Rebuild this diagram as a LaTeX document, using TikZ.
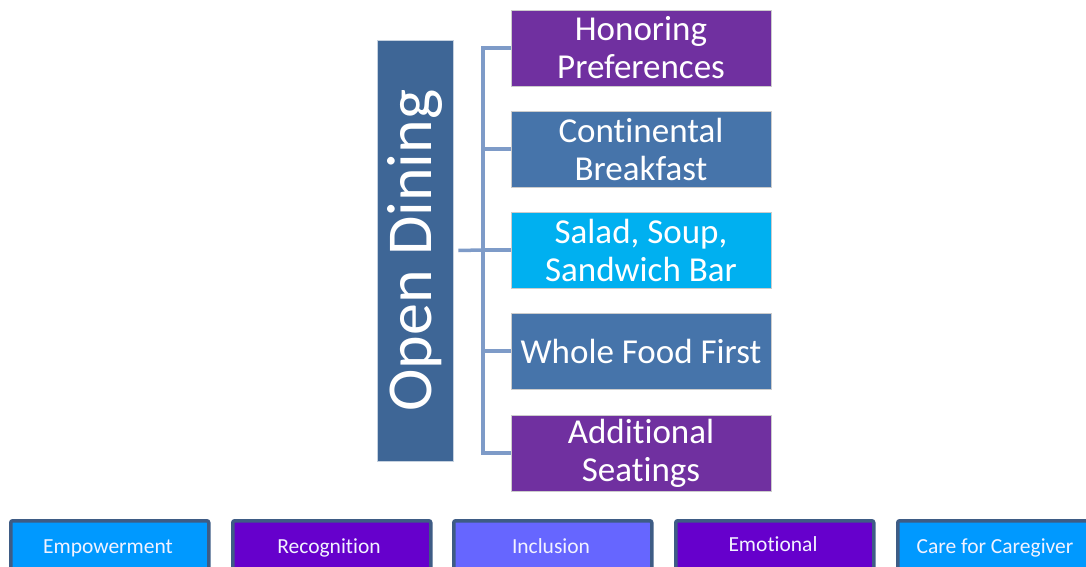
\documentclass[tikz,border=0pt]{standalone}
\usepackage{fontspec}
\setmainfont[Ligatures=NoCommon]{Carlito}
\definecolor{mainblue}{RGB}{62,102,150}
\definecolor{itempurple}{RGB}{112,48,160}
\definecolor{itemblue}{RGB}{70,116,170}
\definecolor{itemcyan}{RGB}{0,176,240}
\definecolor{bracketblue}{RGB}{126,155,200}
\definecolor{tabborder}{RGB}{62,92,133}
\definecolor{tabsky}{RGB}{0,153,255}
\definecolor{tabviolet}{RGB}{102,0,204}
\definecolor{tablilac}{RGB}{102,102,255}
\begin{document}
\begin{tikzpicture}[x=1pt,y=-1pt,
  itembox/.style={minimum width=260pt,minimum height=76pt,inner sep=0pt,text=white,
    font=\fontsize{35}{38}\selectfont,align=center,draw=white!80!black,line width=0.6pt},
  tabbox/.style={minimum width=198pt,minimum height=70pt,inner sep=0pt,anchor=north west,
    draw=tabborder,line width=3.5pt,rounded corners=2pt},
  tablabel/.style={text=white!95!blue,font=\fontsize{21.5}{24}\selectfont,anchor=base,inner sep=0pt},
  bracket/.style={draw=bracketblue,line width=3.5pt}]
\useasboundingbox (0,0) rectangle (1086,567);
\clip (0,0) rectangle (1086,567);
% central vertical title
\node[fill=mainblue,draw=white!70!mainblue,line width=0.6pt,minimum width=76pt,minimum height=421pt,inner sep=0pt]
  (main) at (415,250.5) {};
\node[rotate=90,text=white,font=\fontsize{64}{64}\selectfont] (title) at (main.center) {Open Dining};
% branch items
\node[itembox,fill=itempurple] (i1) at (641,48) {Honoring\\Preferences};
\node[itembox,fill=itemblue]   (i2) at (641,149) {Continental\\Breakfast};
\node[itembox,fill=itemcyan]   (i3) at (641,250) {Salad, Soup,\\Sandwich Bar};
\node[itembox,fill=itemblue]   (i4) at (641,351) {Whole Food First};
\node[itembox,fill=itempurple] (i5) at (641,453) {Additional\\Seatings};
% bracket connecting the title to the items
\coordinate (bt) at (483,48);
\coordinate (bb) at (483,453);
\coordinate (bm) at (483,250);
\draw[bracket,line cap=rect] (bt) -- (bb);
\foreach \n in {i1,i2,i3,i4,i5} \draw[bracket] (bt |- \n.west) -- (\n.west);
\draw[bracket] (main.east) ++(5,0) -- (bm);
% value tabs along the bottom
\node[tabbox,fill=tabsky]    (t1) at (9,519)  {};
\node[tabbox,fill=tabviolet] (t2) at (231,519) {};
\node[tabbox,fill=tablilac]  (t3) at (452,519) {};
\node[tabbox,fill=tabviolet] (t4) at (674,519) {};
\node[tabbox,fill=tabsky]    (t5) at (896,519) {};
\node[tablabel] (l1) at (108,553) {Empowerment};
\node[tablabel] (l2) at (329,553) {Recognition};
\node[tablabel] (l3) at (551,553) {Inclusion};
\node[tablabel] (l4) at (773,551) {Emotional};
\node[tablabel] (l5) at (995,553) {Care for Caregiver};
\end{tikzpicture}
\end{document}
